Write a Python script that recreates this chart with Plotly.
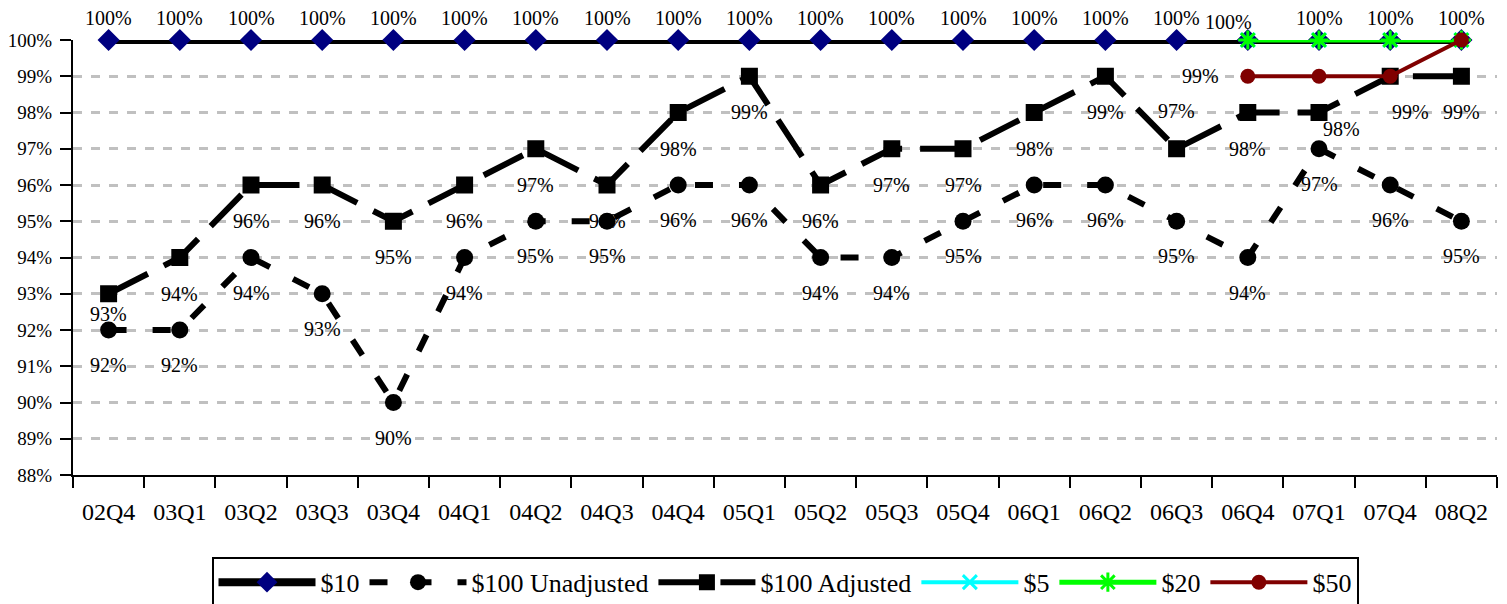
import plotly.graph_objects as go

quarters = ["02Q4", "03Q1", "03Q2", "03Q3", "03Q4", "04Q1", "04Q2", "04Q3", "04Q4", "05Q1",
            "05Q2", "05Q3", "05Q4", "06Q1", "06Q2", "06Q3", "06Q4", "07Q1", "07Q4", "08Q2"]
late_quarters = ["06Q4", "07Q1", "07Q4", "08Q2"]

ten = [100] * 20
hundred_unadj = [92, 92, 94, 93, 90, 94, 95, 95, 96, 96, 94, 94, 95, 96, 96, 95, 94, 97, 96, 95]
hundred_adj = [93, 94, 96, 96, 95, 96, 97, 96, 98, 99, 96, 97, 97, 98, 99, 97, 98, 98, 99, 99]
five = [100, 100, 100, 100]
twenty = [100, 100, 100, 100]
fifty = [99, 99, 99, 100]

y_ticks = list(range(88, 101))

FONT = "Liberation Serif, Times New Roman, serif"

fig = go.Figure()

fig.add_trace(go.Scatter(x=quarters, y=ten, name="$10", mode="lines+markers",
                         line=dict(color="black", width=8),
                         marker=dict(symbol="diamond", size=17, color="#000080"),
                         cliponaxis=False))
fig.add_trace(go.Scatter(x=quarters, y=hundred_unadj, name="$100 Unadjusted", mode="lines+markers",
                         line=dict(color="black", width=6, dash="18px,26px"),
                         marker=dict(symbol="circle", size=17, color="black"),
                         cliponaxis=False))
fig.add_trace(go.Scatter(x=quarters, y=hundred_adj, name="$100 Adjusted", mode="lines+markers",
                         line=dict(color="black", width=6, dash="44px,18px"),
                         marker=dict(symbol="square", size=17, color="black"),
                         cliponaxis=False))
fig.add_trace(go.Scatter(x=late_quarters, y=five, name="$5", mode="lines+markers",
                         line=dict(color="#00FFFF", width=4),
                         marker=dict(symbol="x-thin-open", size=14, line=dict(color="#00FFFF", width=3)),
                         cliponaxis=False))
fig.add_trace(go.Scatter(x=late_quarters, y=twenty, name="$20", mode="lines+markers",
                         line=dict(color="#00FF00", width=5),
                         marker=dict(symbol="asterisk-open", size=16, line=dict(color="#00FF00", width=3)),
                         cliponaxis=False))
fig.add_trace(go.Scatter(x=late_quarters, y=fifty, name="$50", mode="lines+markers",
                         line=dict(color="#800000", width=4),
                         marker=dict(symbol="circle", size=15, color="#800000"),
                         cliponaxis=False))

# label offsets (pixels) -- style only
ten_shift = [(0, 22)] * 16 + [(-19, 18)] + [(0, 22)] * 3
unadj_shift = [(0, -35)] * 20
adj_shift = [(0, -20)] + [(0, -36)] * 14 + [(0, 38)] + [(0, -36)] + [(22, -16)] + [(20, -36), (0, -36)]
fifty_shift = [(-47, 0), None, None, None]

annotations = []
def add_labels(xs, ys, shifts):
    for x, y, s in zip(xs, ys, shifts):
        if s is None:
            continue
        annotations.append(dict(x=x, y=y, xref="x", yref="y", text=f"{y}%", showarrow=False,
                                xshift=s[0], yshift=s[1], font=dict(family=FONT, size=20, color="black")))

add_labels(quarters, ten, ten_shift)
add_labels(quarters, hundred_unadj, unadj_shift)
add_labels(quarters, hundred_adj, adj_shift)
add_labels(late_quarters, fifty, fifty_shift)

fig.update_layout(
    width=1499, height=596,
    margin=dict(l=65, r=10, t=32, b=129, autoexpand=False),
    paper_bgcolor="white", plot_bgcolor="white",
    font=dict(family=FONT, size=20, color="black"),
    annotations=annotations,
    showlegend=True,
    legend=dict(orientation="h", x=0.5, xanchor="center", y=-0.188, yanchor="top",
                bordercolor="black", borderwidth=2, font=dict(family=FONT, size=26),
                itemwidth=97, tracegroupgap=0),
)
fig.update_xaxes(type="category", categoryorder="array", categoryarray=quarters,
                 range=[-0.5, 19.5], automargin=False,
                 showline=True, linecolor="black", linewidth=2,
                 ticks="outside", ticklen=11, tickwidth=2, tickcolor="black",
                 tickson="boundaries", showgrid=False, ticklabelstandoff=14,
                 tickfont=dict(family=FONT, size=24))
fig.update_yaxes(range=[88, 100], tickvals=y_ticks, ticktext=[f"{v}%" for v in y_ticks],
                 automargin=False,
                 showline=True, linecolor="black", linewidth=2,
                 ticks="outside", ticklen=11, tickwidth=2, tickcolor="black",
                 showgrid=True, gridcolor="#C0C0C0", gridwidth=3, griddash="dash",
                 zeroline=False, ticklabelstandoff=4,
                 tickfont=dict(family=FONT, size=19))

fig.write_html("out.html")
